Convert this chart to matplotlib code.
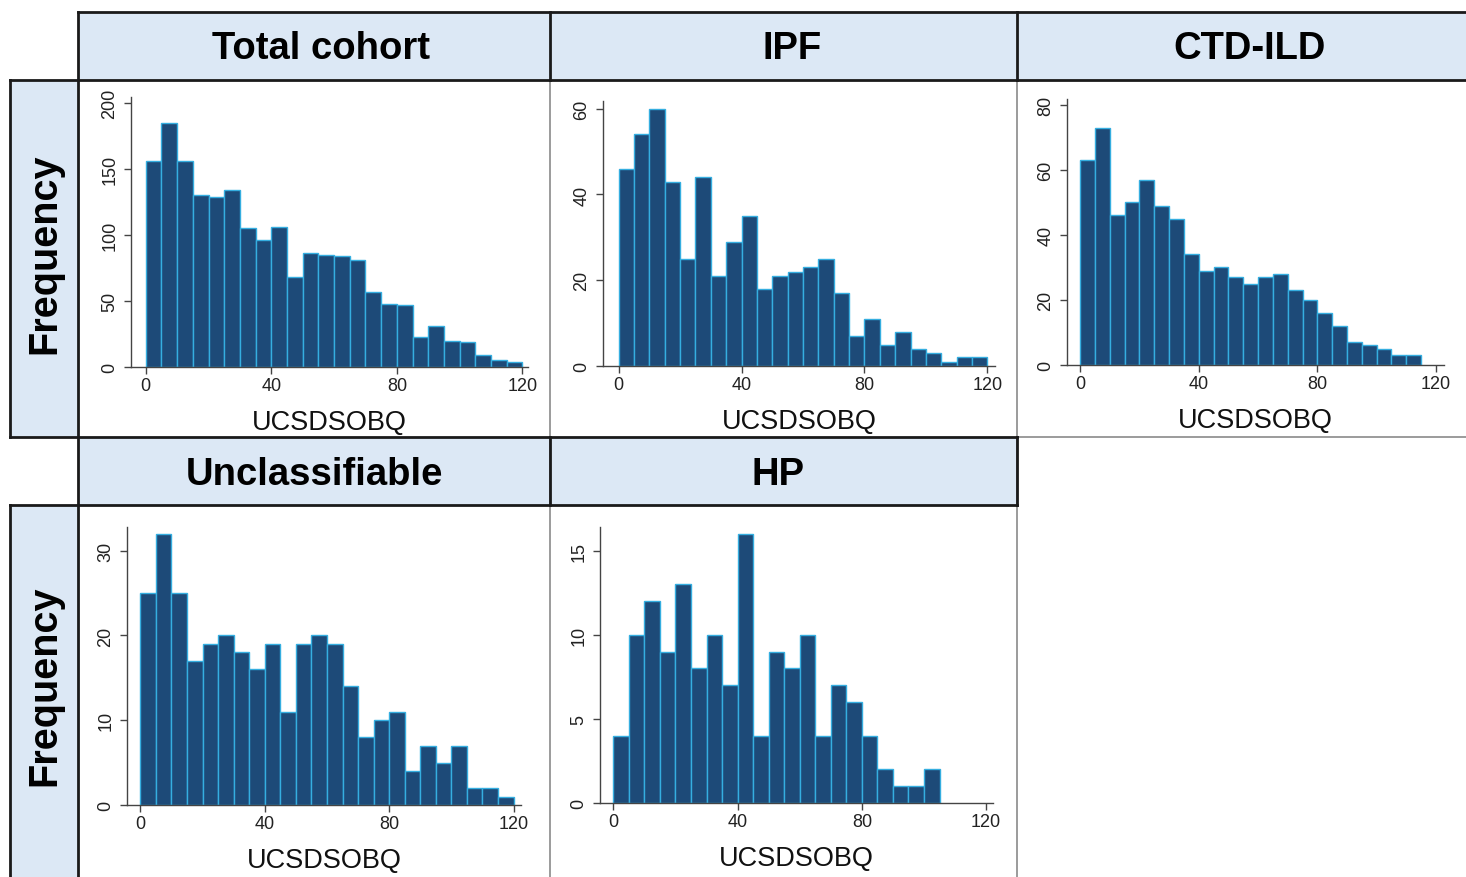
import matplotlib
matplotlib.use("Agg")
import matplotlib.pyplot as plt
from matplotlib.patches import Rectangle

plt.rcParams['font.family'] = ['Liberation Sans', 'DejaVu Sans']

# histogram counts, bins of width 5 starting at 0
bin_width = 5
total_counts = [156, 185, 156, 130, 129, 134, 105, 96, 106, 68, 86, 85,
                84, 81, 57, 48, 47, 23, 31, 20, 19, 9, 5, 4]
ipf_counts = [46, 54, 60, 43, 25, 44, 21, 29, 35, 18, 21, 22,
              23, 25, 17, 7, 11, 5, 8, 4, 3, 1, 2, 2]
ctd_counts = [63, 73, 46, 50, 57, 49, 45, 34, 29, 30, 27, 25,
              27, 28, 23, 20, 16, 12, 7, 6, 5, 3, 3]
uncl_counts = [25, 32, 25, 17, 19, 20, 18, 16, 19, 11, 19, 20,
               19, 14, 8, 10, 11, 4, 7, 5, 7, 2, 2, 1]
hp_counts = [4, 10, 12, 9, 13, 8, 10, 7, 16, 4, 9, 8,
             10, 4, 7, 6, 4, 2, 1, 1, 2]

titles = ["Total cohort", "IPF", "CTD-ILD", "Unclassifiable", "HP"]
x_ticks = [0, 40, 80, 120]
y_ticks = [[0, 50, 100, 150, 200], [0, 20, 40, 60], [0, 20, 40, 60, 80],
           [0, 10, 20, 30], [0, 5, 10, 15]]
x_label = "UCSDSOBQ"
y_label = "Frequency"

W, H = 1466, 878
bar_color = "#1d4a78"
edge_color = "#35aee0"
strip_color = "#dce8f5"
dark = "#1a1a1a"
grey = "#8a8a8a"

fig = plt.figure(figsize=(W / 100, H / 100), dpi=100)

# background layer in pixel coords for strips and frames
bg = fig.add_axes([0, 0, 1, 1])
bg.set_xlim(0, W)
bg.set_ylim(H, 0)
bg.axis("off")

# header strips
bg.add_patch(Rectangle((78, 13), W - 78, 68, facecolor=strip_color, edgecolor="none"))
bg.add_patch(Rectangle((78, 438), 1017 - 78, 68, facecolor=strip_color, edgecolor="none"))
# Frequency boxes
bg.add_patch(Rectangle((10, 81), 68, 357, facecolor=strip_color, edgecolor="none"))
bg.add_patch(Rectangle((10, 506), 68, H - 506, facecolor=strip_color, edgecolor="none"))

# grey inner panel lines
bg.plot([550, 550], [81, H], color=grey, lw=1.2)
bg.plot([1017, 1017], [81, H], color=grey, lw=1.2)
bg.plot([1017, W], [438, 438], color=grey, lw=1.2)

# dark frame lines
for xs, ys in [
    ([78, W], [13, 13]), ([10, W], [81, 81]),
    ([78, 78], [13, H]), ([550, 550], [13, 81]), ([1017, 1017], [13, 81]),
    ([10, 10], [81, 438]), ([10, 1017], [438, 438]),
    ([550, 550], [438, 506]), ([1017, 1017], [438, 506]),
    ([10, 1017], [506, 506]), ([10, 10], [506, H]),
]:
    bg.plot(xs, ys, color=dark, lw=2, solid_capstyle="projecting")

header_centers = [(321, 49), (792, 49), (1250, 49), (314, 475), (778, 475)]
for (cx, cy), t in zip(header_centers, titles):
    bg.text(cx, cy, t, ha="center", va="center", fontsize=27.5, fontweight="bold", color="black")
for cy in [254, 686]:
    bg.text(44, cy, y_label, ha="center", va="center", rotation=90,
            fontsize=28.5, fontweight="bold", color="black")

# axes boxes in pixels: left, right, top, bottom ; with data limits
panels = [
    (total_counts, (131, 528, 98, 368), (-4.7, 121.8), 204.3),
    (ipf_counts, (603, 995, 102, 367), (-5.1, 122.5), 61.8),
    (ctd_counts, (1067, 1444, 100, 366), (-4.4, 122.7), 81.8),
    (uncl_counts, (127, 521, 528, 806), (-4.3, 122.4), 32.8),
    (hp_counts, (600, 993, 528, 804), (-4.3, 122.2), 16.4),
]

for i, (counts, (l, r, t, b), xl, ytop) in enumerate(panels):
    ax = fig.add_axes([l / W, 1 - b / H, (r - l) / W, (b - t) / H])
    ax.patch.set_alpha(0)
    lefts = [k * bin_width for k in range(len(counts))]
    ax.bar(lefts, counts, width=bin_width, align="edge",
           color=bar_color, edgecolor=edge_color, linewidth=1.0)
    ax.set_xlim(*xl)
    ax.set_ylim(0, ytop)
    ax.set_xticks(x_ticks)
    ax.set_yticks(y_ticks[i])
    ax.set_yticklabels([str(v) for v in y_ticks[i]], rotation=90, va="center")
    for s in ["top", "right"]:
        ax.spines[s].set_visible(False)
    for s in ["left", "bottom"]:
        ax.spines[s].set_color("#444444")
        ax.spines[s].set_linewidth(1.0)
    ax.tick_params(axis="x", length=5, width=1, color="#444444", labelsize=13,
                   labelcolor="#222222", pad=2)
    ax.tick_params(axis="y", length=5, width=1, color="#444444", labelsize=13,
                   labelcolor="#222222", pad=4)
    ax.set_xlabel(x_label, fontsize=19.5, color="#111111", labelpad=11)

fig.savefig("out.png", dpi=100)
